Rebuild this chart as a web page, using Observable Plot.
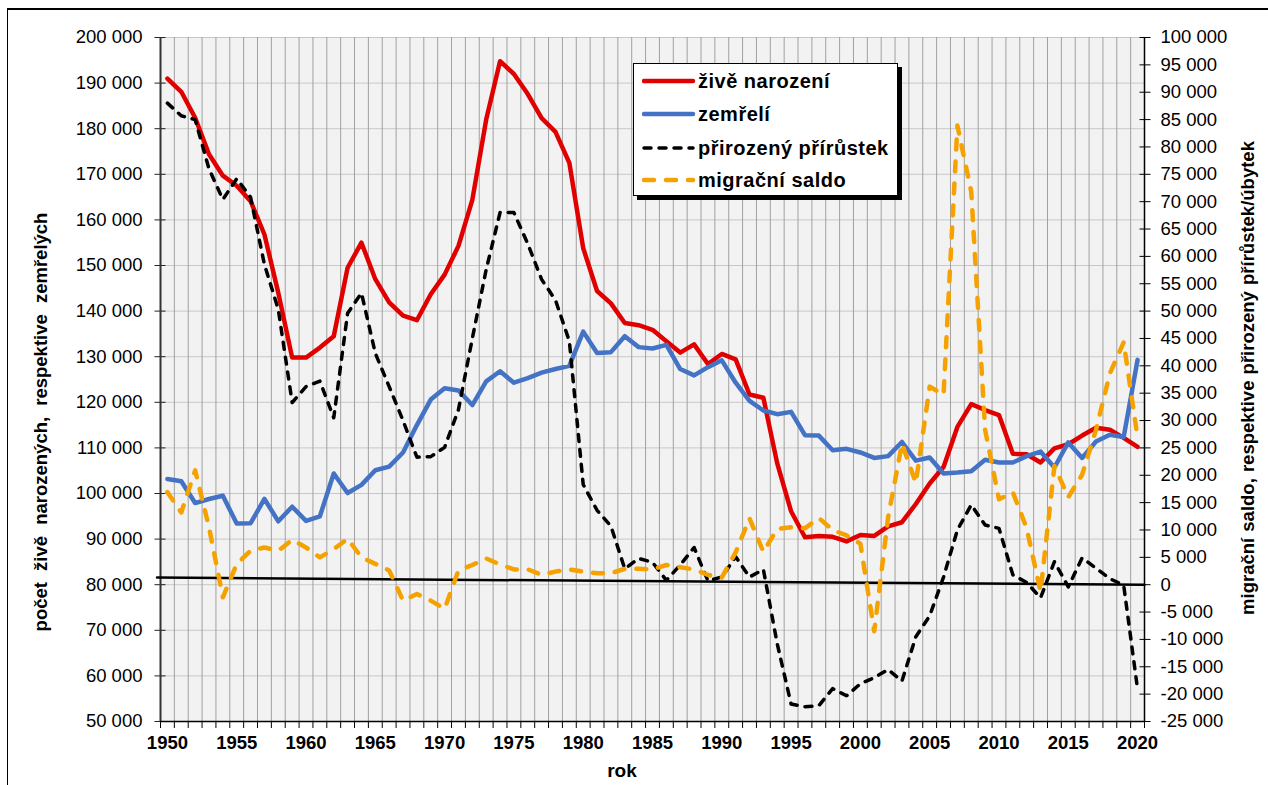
<!DOCTYPE html>
<html><head><meta charset="utf-8">
<script src="https://cdn.jsdelivr.net/npm/d3@7"></script>
<script src="https://cdn.jsdelivr.net/npm/@observablehq/plot@0.6"></script>
<style>
html,body{margin:0;padding:0;background:#fff;}
body{width:1268px;height:785px;position:relative;overflow:hidden;font-family:"Liberation Sans",Arial,sans-serif;}
#frame{position:absolute;left:7px;top:8px;width:1400px;height:900px;border-left:1.5px solid #000;border-top:2px solid #000;box-sizing:border-box;}
#chart{position:absolute;left:0;top:0;}
.ytitle{position:absolute;white-space:nowrap;font-weight:bold;font-size:18.5px;color:#000;transform:translate(-50%,-50%) rotate(-90deg);}
#xtitle{position:absolute;white-space:nowrap;font-weight:bold;font-size:19px;color:#000;transform:translate(-50%,-50%);left:622px;top:771px;}
#legend{position:absolute;left:633px;top:63px;width:265px;height:133px;box-sizing:border-box;border:1px solid #000;background:#fff;box-shadow:4px 4px 0 #000;}
.item{position:absolute;left:0;height:30px;width:265px;}
.item svg{position:absolute;left:8px;top:0;}
.item span{position:absolute;left:64px;top:50%;transform:translateY(-50%);font-weight:bold;font-size:20px;letter-spacing:0.5px;white-space:nowrap;color:#000;}
</style></head><body>
<div id="frame"></div>
<div id="chart"></div>
<div class="ytitle" style="left:41px;top:422px;word-spacing:6px;">počet živě narozených, respektive zemřelých</div>
<div class="ytitle" style="left:1248px;top:378px;word-spacing:1px;">migrační saldo, respektive přirozený přírůstek/úbytek</div>
<div id="xtitle">rok</div>
<div id="legend"></div>
<script>
const years = [1950,1951,1952,1953,1954,1955,1956,1957,1958,1959,1960,1961,1962,1963,1964,1965,1966,1967,1968,1969,
1970,1971,1972,1973,1974,1975,1976,1977,1978,1979,1980,1981,1982,1983,1984,1985,1986,1987,1988,1989,
1990,1991,1992,1993,1994,1995,1996,1997,1998,1999,2000,2001,2002,2003,2004,2005,2006,2007,2008,2009,
2010,2011,2012,2013,2014,2015,2016,2017,2018,2019,2020];

// živě narození (left axis)
const births = [191000,188100,182400,174400,169700,167500,164100,156800,144000,129800,
129800,132000,134500,149500,155000,147000,141900,139000,138000,143700,
148000,154300,164400,182000,194800,192000,187600,182300,179300,172500,
153800,144400,141700,137400,136900,135900,133400,130900,132700,128400,
130600,129400,121700,121000,106600,96100,90400,90700,90500,89500,
90900,90700,92800,93700,97700,102200,105800,114600,119600,118300,
117200,108700,108600,106800,109900,110800,112700,114400,114000,112200,110200];

// zemřelí (left axis)
const deaths = [103200,102700,97900,98800,99500,93400,93500,98800,93900,97100,
94000,95000,104400,100100,101900,105100,105900,109000,115000,120600,
123100,122600,119400,124600,126800,124300,125300,126500,127300,128000,
135500,130800,131000,134500,132100,131800,132600,127300,125900,127700,
129200,124300,120300,118200,117400,117900,112800,112700,109500,109800,
109000,107800,108200,111300,107200,107900,104400,104600,104900,107400,
106800,106800,108200,109200,105700,111200,107800,111400,112900,112400,129300];

// přirozený přírůstek (right axis)
const natural = [88000,85700,85000,76000,70400,74200,70800,58500,50300,33300,
36200,37200,30500,49600,53300,42300,36200,30000,23300,23400,
25100,32000,45000,57600,68000,68000,62300,55800,52000,44500,
18300,13600,10700,2900,4800,4100,800,3600,6800,700,
1400,5100,1400,2800,-10800,-21800,-22300,-22100,-19000,-20300,
-18100,-17000,-15500,-17600,-9500,-5700,1400,10000,14600,10900,
10300,1800,400,-2400,4200,-400,4900,3000,1100,-100,-19100];

// migrační saldo (right axis)
const migration = [16900,13200,20900,10500,-2300,3800,6200,6800,6200,8200,
6800,5000,6500,8400,5000,3800,2600,-2900,-1700,-2900,
-4400,2600,3600,4800,3700,2800,2800,1800,2400,2800,
2400,2100,2100,2900,2900,2800,3600,3200,2800,1800,
1300,5900,12100,6000,10200,10500,10300,12200,10000,9000,
7500,-8500,12300,25800,18600,36200,34700,83900,71800,28300,
15600,16900,10300,-1300,21700,16000,20100,28300,38600,44300,26900];

const leftTicks = [50000,60000,70000,80000,90000,100000,110000,120000,130000,140000,150000,160000,170000,180000,190000,200000];
const rightTicks = [-25000,-20000,-15000,-10000,-5000,0,5000,10000,15000,20000,25000,30000,35000,40000,45000,50000,55000,60000,65000,70000,75000,80000,85000,90000,95000,100000];
const xLabels = [1950,1955,1960,1965,1970,1975,1980,1985,1990,1995,2000,2005,2010,2015,2020];
const zeroLine = [{year:1949.25, v:1300},{year:2020.5, v:0}];

const seriesNames = ["živě narození","zemřelí","přirozený přírůstek","migrační saldo"];
const colors = ["#e00000","#4472c4","#000000","#f5a200"];

// right axis value -> left scale
const toLeft = v => 80000 + v * 1.2;
const fmt = v => (v < 0 ? "-" : "") + String(Math.abs(Math.round(v))).replace(/\B(?=(\d{3})+(?!\d))/g, " ");
const bounds = years.map(y => y - 0.5).concat([years[years.length-1] + 0.5]);

const rowsB = years.map((year,i) => ({year, v: births[i]}));
const rowsD = years.map((year,i) => ({year, v: deaths[i]}));
const rowsN = years.map((year,i) => ({year, v: toLeft(natural[i])}));
const rowsM = years.map((year,i) => ({year, v: toLeft(migration[i])}));
const rowsZ = zeroLine.map(d => ({year: d.year, v: toLeft(d.v)}));
const rightPos = rightTicks.map(toLeft);

const font = "Liberation Sans, Arial, sans-serif";
const chart = Plot.plot({
  width: 1268, height: 785,
  marginLeft: 160, marginRight: 124, marginTop: 37, marginBottom: 64,
  x: {domain: [1949.5, 2020.5]},
  y: {domain: [50000, 200000]},
  style: {background: "transparent", fontFamily: font, color: "#000", overflow: "visible"},
  marks: [
    Plot.frame({fill: "#f2f2f2", stroke: "none"}),
    Plot.gridY(leftTicks, {stroke: "#c8c8c8", strokeOpacity: 1, strokeWidth: 1}),
    Plot.gridX(bounds, {stroke: "#a0a0a0", strokeOpacity: 1, strokeWidth: 1}),
    // left axis
    Plot.axisY(leftTicks, {anchor: "left", tickSize: 11, dx: 5.5, tickFormat: () => "", label: null, stroke: "#222"}),
    Plot.axisY(leftTicks, {anchor: "left", tickSize: 0, tickPadding: 18, tickFormat: fmt, label: null, fontSize: 18.5, letterSpacing: "0.4px"}),
    // right axis
    Plot.axisY(rightPos, {anchor: "right", tickSize: 11, dx: -5.5, tickFormat: () => "", label: null, stroke: "#000"}),
    Plot.axisY(rightPos, {anchor: "right", tickSize: 0, tickPadding: 16, tickFormat: v => fmt((v - 80000) / 1.2), label: null, fontSize: 18.5, letterSpacing: "0.4px", textAnchor: "start"}),
    // x axis
    Plot.axisX(bounds, {anchor: "bottom", tickSize: 7, tickFormat: () => "", label: null, stroke: "#000"}),
    Plot.axisX(xLabels, {anchor: "bottom", tickSize: 0, tickPadding: 14, tickFormat: d => String(d), label: null, fontSize: 18.5, fontWeight: "bold"}),
    Plot.ruleX([1949.5], {stroke: "#333", strokeWidth: 2}),
    Plot.ruleX([2020.5], {stroke: "#000", strokeWidth: 1.5}),
    Plot.ruleY([50000], {stroke: "#000", strokeWidth: 1.5}),
    // zero line
    Plot.line(rowsZ, {x: "year", y: "v", stroke: "#000", strokeWidth: 2.5}),
    // series
    Plot.line(rowsB, {x: "year", y: "v", stroke: colors[0], strokeWidth: 4.5, strokeLinejoin: "round", strokeLinecap: "round"}),
    Plot.line(rowsD, {x: "year", y: "v", stroke: colors[1], strokeWidth: 4.5, strokeLinejoin: "round", strokeLinecap: "round"}),
    Plot.line(rowsN, {x: "year", y: "v", stroke: colors[2], strokeWidth: 3.5, strokeDasharray: "7,8", strokeLinecap: "round", strokeLinejoin: "round"}),
    Plot.line(rowsM, {x: "year", y: "v", stroke: colors[3], strokeWidth: 4.5, strokeDasharray: "10,12", strokeLinecap: "round", strokeLinejoin: "round"})
  ]
});
document.getElementById("chart").appendChild(chart);

// legend
const dashes = [null, null, "7,8", "10,12"];
const widths = [4.5, 4.5, 3.5, 4.5];
const rowY = [17, 50, 84, 116];
const leg = document.getElementById("legend");
seriesNames.forEach((name, i) => {
  const div = document.createElement("div");
  div.className = "item";
  div.style.top = (rowY[i] - 15) + "px";
  div.innerHTML = `<svg width="54" height="30"><line x1="2" y1="15" x2="51" y2="15" stroke="${colors[i]}" stroke-width="${widths[i]}" stroke-linecap="round" ${dashes[i] ? `stroke-dasharray="${dashes[i]}"` : ""}/></svg><span>${name}</span>`;
  leg.appendChild(div);
});
</script>
</body></html>
